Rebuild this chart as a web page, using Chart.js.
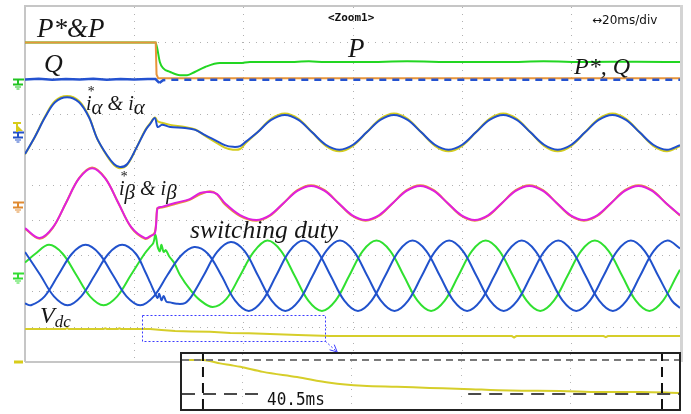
<!DOCTYPE html>
<html>
<head>
<meta charset="utf-8">
<script src="https://cdn.jsdelivr.net/npm/chart.js@4.4.1/dist/chart.umd.min.js"></script>
<style>
  html, body { margin: 0; padding: 0; background: #fff; }
  #wrap { position: relative; width: 691px; height: 414px; overflow: hidden; }
  #scope { position: absolute; left: 0; top: 0; }
  #zoomBox { position: absolute; left: 180px; top: 352px; width: 497px; height: 55px; border: 2px solid #222; background: #fff; }
  #zoomBox canvas { display: block; }
  .lbl { position: absolute; font-family: "Liberation Serif", "Times New Roman", serif; font-style: italic; color: #161616; line-height: 1; white-space: nowrap; }
  .ui { position: absolute; font-family: "DejaVu Sans Mono", monospace; color: #111; line-height: 1; white-space: nowrap; }
  .ix { position: relative; }
  .st { position: absolute; left: 1px; top: -7px; font-size: 14px; }
  .sb { position: relative; top: 4px; font-size: 21px; }
</style>
</head>
<body>
<div id="wrap">
  <canvas id="scope" width="691" height="414"></canvas>
  <div id="zoomBox"><canvas id="zoom" width="497" height="55"></canvas></div>

  <div class="lbl" style="left:37px;top:15px;font-size:27px">P*&amp;P</div>
  <div class="lbl" style="left:44px;top:51px;font-size:26px">Q</div>
  <div class="lbl" style="left:348px;top:35px;font-size:27px">P</div>
  <div class="lbl" style="left:574px;top:54px;font-size:24px">P*, Q</div>
  <div class="lbl" style="left:86px;top:93px;font-size:20px"><span class="ix">i<span class="st">*</span></span><span class="sb">α</span> &amp; i<span class="sb">α</span></div>
  <div class="lbl" style="left:119px;top:178px;font-size:20px"><span class="ix">i<span class="st">*</span></span><span class="sb">β</span> &amp; i<span class="sb">β</span></div>
  <div class="lbl" style="left:190px;top:217px;font-size:25.5px">switching duty</div>
  <div class="lbl" style="left:40px;top:303px;font-size:24px">V<span style="font-size:17px;position:relative;top:4px">dc</span></div>

  <div class="ui" style="left:328px;top:12px;font-size:11px;font-weight:bold">&lt;Zoom1&gt;</div>
  <div class="ui" style="left:592px;top:14px;font-size:12px;font-family:'DejaVu Sans',sans-serif">&#8596;20ms/div</div>
  <div class="ui" style="left:267px;top:390px;font-size:16px;transform:scaleY(1.12);transform-origin:0 0">40.5ms</div>
</div>

<script>
// time in ms (20 ms/div, 6 div), amplitude in screen divisions (0..10)
const xGridMs = [20, 40, 60, 80, 100];
const yGridDiv = [1, 2, 3, 4, 5, 6, 7, 8, 9];

// P* (orange) and P (green)
const tPref = [0, 23.95, 24.1, 24.4, 120];
const pRef = [9.0, 9.0, 8.1, 7.99, 7.99];
const tP = [0, 23.9, 24.2, 24.7, 25.3, 26.6, 28.4, 29.7, 31.1, 33.0, 35.7, 39.4, 41.2, 48, 52, 55, 62, 70, 79, 88, 95, 103, 112, 120];
const pMeas = [9.0, 9.0, 8.85, 8.45, 8.28, 8.17, 8.08, 8.08, 8.17, 8.31, 8.42, 8.42, 8.45, 8.45, 8.47, 8.45, 8.45, 8.47, 8.45, 8.45, 8.47, 8.45, 8.46, 8.45];

// Q (blue)
const tQ = [0, 2.5, 5, 7.5, 10, 12.5, 15, 17.5, 20, 22.5, 23.9, 24.6, 25.3, 26.5, 40, 60, 80, 100, 120];
const qMeas = [7.96, 7.98, 7.95, 7.97, 7.96, 7.98, 7.95, 7.97, 7.96, 7.97, 7.97, 7.86, 7.94, 7.95, 7.95, 7.95, 7.95, 7.95, 7.95];

// i_alpha (blue) and i_alpha* (yellow)
const tAlpha = [0, 1.8, 3.7, 5.5, 7.7, 9.9, 11.7, 13.2, 15.0, 16.3, 17.4, 18.7, 20.5, 22.0, 22.9, 23.8,
  24.3, 25.1, 26.6, 29.3, 31.2, 33.0, 34.8, 36.6, 38.1, 39.4, 40.4,
  42.6, 45.1, 47.6, 50.1, 52.6, 55.1, 57.6, 60.1, 62.6, 65.1, 67.6, 70.1, 72.6, 75.1, 77.6, 80.1,
  82.6, 85.1, 87.6, 90.1, 92.6, 95.1, 97.6, 100.1, 102.6, 105.1, 107.6, 110.1, 112.6, 115.1, 117.6, 120];
const iAlpha = [5.86, 6.34, 6.90, 7.32, 7.46, 7.32, 6.90, 6.30, 5.83, 5.58, 5.49, 5.57, 6.06, 6.51, 6.70, 6.87,
  6.62, 6.68, 6.62, 6.59, 6.54, 6.39, 6.25, 6.11, 6.06, 6.08, 6.20,
  6.47, 6.82, 6.96, 6.82, 6.47, 6.12, 5.98, 6.12, 6.47, 6.82, 6.96, 6.82, 6.47, 6.12, 5.98, 6.12,
  6.47, 6.82, 6.96, 6.82, 6.47, 6.12, 5.98, 6.12, 6.47, 6.82, 6.96, 6.82, 6.47, 6.12, 5.98, 6.11];
const iAlphaRef = [5.85, 6.34, 6.92, 7.35, 7.49, 7.35, 6.92, 6.30, 5.81, 5.55, 5.46, 5.55, 6.06, 6.53, 6.72, 6.89,
  6.78, 6.74, 6.68, 6.62, 6.55, 6.37, 6.20, 6.04, 5.98, 6.00, 6.16,
  6.47, 6.85, 7.00, 6.85, 6.47, 6.09, 5.94, 6.09, 6.47, 6.85, 7.00, 6.85, 6.47, 6.09, 5.94, 6.09,
  6.47, 6.85, 7.00, 6.85, 6.47, 6.09, 5.94, 6.09, 6.47, 6.85, 7.00, 6.85, 6.47, 6.09, 5.94, 6.08];

// i_beta (magenta) and i_beta* (orange)
const tBeta = [0, 2.7, 5.1, 7.5, 9.9, 12.3, 14.7, 17.1, 19.5, 22.0, 23.0, 23.8, 24.2, 24.4, 25.1, 27.5, 30.2, 32.1, 33.9, 35.2, 36.6, 39.4,
  42.4, 44.9, 47.4, 49.9, 52.4, 54.9, 57.4, 59.9, 62.4, 64.9, 67.4, 69.9, 72.4, 74.9, 77.4, 79.9,
  82.4, 84.9, 87.4, 89.9, 92.4, 94.9, 97.4, 99.9, 102.4, 104.9, 107.4, 109.9, 112.4, 114.9, 117.4, 120];
const iBeta = [3.77, 3.49, 3.79, 4.48, 5.17, 5.46, 5.17, 4.48, 3.79, 3.49, 3.55, 3.63, 4.28, 4.35, 4.37, 4.48, 4.59, 4.76, 4.79, 4.73, 4.48, 4.14,
  4.00, 4.14, 4.48, 4.82, 4.96, 4.82, 4.48, 4.14, 4.00, 4.14, 4.48, 4.82, 4.96, 4.82, 4.48, 4.14,
  4.00, 4.14, 4.48, 4.82, 4.96, 4.82, 4.48, 4.14, 4.00, 4.14, 4.48, 4.82, 4.96, 4.82, 4.48, 4.14];
const iBetaRef = [3.75, 3.47, 3.78, 4.48, 5.18, 5.48, 5.18, 4.48, 3.78, 3.47, 3.54, 3.66, 4.33, 4.33, 4.35, 4.45, 4.57, 4.72, 4.81, 4.72, 4.44, 4.11,
  3.98, 4.12, 4.48, 4.84, 4.98, 4.84, 4.48, 4.12, 3.98, 4.12, 4.48, 4.84, 4.98, 4.84, 4.48, 4.12,
  3.98, 4.12, 4.48, 4.84, 4.98, 4.84, 4.48, 4.12, 3.98, 4.12, 4.48, 4.84, 4.98, 4.84, 4.48, 4.12];

// switching duty, three phases
const tDutyG = [0, 1.9, 4.4, 6.9, 9.4, 11.9, 14.4, 16.9, 19.4, 21.9, 22.9, 23.5, 23.9, 24.3, 24.7, 25.0, 25.4, 25.8, 26.4, 27.3, 28.4, 30.2, 32.0, 34.4, 36.9, 39.4, 41.9, 44.4,
  46.9, 49.4, 51.9, 54.4, 56.9, 59.4, 61.9, 64.4, 66.9, 69.4, 71.9, 74.4, 76.9, 79.4, 81.9, 84.4,
  86.9, 89.4, 91.9, 94.4, 96.9, 99.4, 101.9, 104.4, 106.9, 109.4, 111.9, 114.4, 116.9, 119.4, 120];
const dutyG = [2.80, 3.05, 3.30, 3.05, 2.45, 1.85, 1.60, 1.85, 2.45, 3.05, 3.24, 3.35, 3.58, 3.25, 3.12, 3.30, 3.10, 3.15, 2.98, 2.80, 2.45, 2.05, 1.75, 1.55, 1.78, 2.43, 3.10, 3.42,
  3.13, 2.43, 1.73, 1.44, 1.73, 2.43, 3.13, 3.42, 3.13, 2.43, 1.73, 1.44, 1.73, 2.43, 3.13, 3.42,
  3.13, 2.43, 1.73, 1.44, 1.73, 2.43, 3.13, 3.42, 3.13, 2.43, 1.73, 1.44, 1.73, 2.43, 2.60];
const tDutyA = [0, 1.1, 3.6, 6.1, 8.6, 11.1, 13.6, 16.1, 18.6, 21.1, 23.6, 26.1, 28.6, 31.0, 33.5, 36.0, 38.5, 41.0,
  43.5, 46.0, 48.5, 51.0, 53.5, 56.0, 58.5, 61.0, 63.5, 66.0, 68.5, 71.0, 73.5, 76.0, 78.5, 81.0,
  83.5, 86.0, 88.5, 91.0, 93.5, 96.0, 98.5, 101.0, 103.5, 106.0, 108.5, 111.0, 113.5, 116.0, 118.5, 120];
const dutyA = [1.65, 1.60, 1.85, 2.45, 3.05, 3.30, 3.05, 2.45, 1.85, 1.60, 1.85, 2.45, 3.00, 3.24, 3.05, 2.43, 1.73, 1.44,
  1.73, 2.43, 3.13, 3.42, 3.13, 2.43, 1.73, 1.44, 1.73, 2.43, 3.13, 3.42, 3.13, 2.43, 1.73, 1.44,
  1.73, 2.43, 3.13, 3.42, 3.13, 2.43, 1.73, 1.44, 1.73, 2.43, 3.13, 3.42, 3.13, 2.43, 1.73, 1.52];
const tDutyB = [0, 2.8, 5.3, 7.8, 10.3, 12.8, 15.3, 17.8, 20.3, 22.0, 22.9, 23.8, 24.3, 24.6, 25.0, 25.4, 25.9, 26.6, 27.8, 29.3, 30.5, 32.7, 35.2, 37.7,
  40.2, 42.7, 45.2, 47.7, 50.2, 52.7, 55.2, 57.7, 60.2, 62.7, 65.2, 67.7, 70.2, 72.7, 75.2, 77.7,
  80.2, 82.7, 85.2, 87.7, 90.2, 92.7, 95.2, 97.7, 100.2, 102.7, 105.2, 107.7, 110.2, 112.7, 115.2, 117.7, 120];
const dutyB = [3.10, 2.45, 1.85, 1.60, 1.85, 2.45, 3.05, 3.30, 3.05, 2.55, 2.25, 1.94, 1.80, 1.92, 1.74, 1.86, 1.70, 1.68, 1.64, 1.66, 1.85, 2.43, 3.10, 3.38,
  3.13, 2.43, 1.73, 1.44, 1.73, 2.43, 3.13, 3.42, 3.13, 2.43, 1.73, 1.44, 1.73, 2.43, 3.13, 3.42,
  3.13, 2.43, 1.73, 1.44, 1.73, 2.43, 3.13, 3.42, 3.13, 2.43, 1.73, 1.44, 1.73, 2.43, 3.13, 3.42, 3.20];

// Vdc (yellow)
const tVdc = [0, 7.4, 7.7, 8.0, 14.4, 14.7, 15.0, 17.0, 17.3, 17.6, 22.9, 25.0, 27.5, 30.5, 33.9, 37.6, 41.0, 44.9, 50.0, 55.9, 70, 89.2, 89.6, 90.0, 106.0, 106.4, 106.8, 120];
const vdc = [0.93, 0.93, 0.96, 0.93, 0.93, 0.95, 0.93, 0.93, 0.95, 0.93, 0.93, 0.90, 0.87, 0.86, 0.85, 0.82, 0.81, 0.79, 0.76, 0.73, 0.73, 0.73, 0.69, 0.73, 0.73, 0.70, 0.73, 0.73];

// channel ground markers (div) and the zoom window
const groundLevels = [7.97, 6.48, 4.52, 2.50];
const groundColors = ['#22c422', '#2452c8', '#e08a30', '#33dd33'];
const zoomWindow = { t0: 21.4, t1: 55.0, v0: 0.59, v1: 1.32 };
const arrowTip = { t: 57.2, v: 0.28 };

// zoom inset: ms from first cursor, Vdc normalised between cursor levels
const tZoom = [-1.85, 0, 0.6, 1.5, 2.4, 3.3, 5.3, 8.3, 11.2, 14.1, 17.1, 20.0, 23.0, 27.1, 31.5, 35.0, 38.6, 42.0];
const vdcZoom = [1.0, 1.0, 0.97, 0.90, 0.85, 0.80, 0.65, 0.50, 0.33, 0.24, 0.21, 0.18, 0.15, 0.10, 0.09, 0.06, 0.06, 0.03];
const cursorTimes = [0, 40.5];
const cursorLevels = [1, 0];
const lowCursorGap = [5.3, 23.4];
const insetGridMs = [3.4, 13.1, 22.8, 32.4];
const insetX = [-1.85, 42.0];
const insetY = [-0.441, 1.176];

const pts = (ts, vs) => ts.map((t, i) => ({ x: t, y: vs[i] }));

// smooth curves for the sine-like channels
const trace = (label, ts, vs, color, extra) => Object.assign({
  label, data: pts(ts, vs), borderColor: color, borderWidth: 2,
  pointRadius: 0, tension: 0.35, fill: false
}, extra || {});

const scopeDecor = {
  id: 'scopeDecor',
  beforeDatasetsDraw(chart) {
    const { ctx, chartArea: a, scales: { x, y } } = chart;
    ctx.save();
    ctx.strokeStyle = '#b0b0b0';
    ctx.lineWidth = 1;
    ctx.setLineDash([1, 6]);
    xGridMs.forEach(t => {
      const px = Math.round(x.getPixelForValue(t)) + 0.5;
      ctx.beginPath(); ctx.moveTo(px, a.top); ctx.lineTo(px, a.bottom); ctx.stroke();
    });
    yGridDiv.forEach(v => {
      const py = Math.round(y.getPixelForValue(v)) + 0.5;
      ctx.beginPath(); ctx.moveTo(a.left, py); ctx.lineTo(a.right, py); ctx.stroke();
    });
    ctx.setLineDash([]);
    ctx.strokeStyle = '#c6c6c6';
    ctx.lineWidth = 2;
    ctx.beginPath();
    ctx.moveTo(a.left, a.bottom); ctx.lineTo(a.left, a.top - 1); ctx.lineTo(a.right + 2, a.top - 1);
    ctx.moveTo(a.left, a.bottom); ctx.lineTo(a.right, a.bottom);
    ctx.stroke();
    ctx.strokeStyle = '#d4d4d4';
    ctx.lineWidth = 3;
    ctx.beginPath(); ctx.moveTo(a.right + 1.5, a.top - 2); ctx.lineTo(a.right + 1.5, a.bottom); ctx.stroke();
    ctx.restore();
  },
  afterDraw(chart) {
    const { ctx, scales: { x, y } } = chart;
    ctx.save();
    // zoom window and arrow
    const l = x.getPixelForValue(zoomWindow.t0), r = x.getPixelForValue(zoomWindow.t1);
    const t = y.getPixelForValue(zoomWindow.v1), b = y.getPixelForValue(zoomWindow.v0);
    ctx.strokeStyle = '#3b3bff';
    ctx.lineWidth = 1;
    ctx.setLineDash([2, 2]);
    ctx.strokeRect(Math.round(l) + 0.5, Math.round(t) + 0.5, Math.round(r - l), Math.round(b - t));
    const tx = x.getPixelForValue(arrowTip.t), ty = y.getPixelForValue(arrowTip.v);
    ctx.beginPath(); ctx.moveTo(r, b); ctx.lineTo(tx, ty); ctx.stroke();
    ctx.setLineDash([]);
    const ang = Math.atan2(ty - b, tx - r);
    ctx.beginPath();
    ctx.moveTo(tx - 8 * Math.cos(ang - 0.45), ty - 8 * Math.sin(ang - 0.45));
    ctx.lineTo(tx, ty);
    ctx.lineTo(tx - 8 * Math.cos(ang + 0.45), ty - 8 * Math.sin(ang + 0.45));
    ctx.stroke();

    // ground markers at the left edge
    groundLevels.forEach((lv, i) => {
      const py = Math.round(y.getPixelForValue(lv)) + 0.5;
      ctx.strokeStyle = groundColors[i];
      ctx.lineWidth = 2;
      ctx.beginPath();
      ctx.moveTo(13, py); ctx.lineTo(24, py);
      ctx.moveTo(18, py); ctx.lineTo(18, py + 5);
      ctx.moveTo(13, py + 5); ctx.lineTo(23, py + 5);
      ctx.stroke();
      ctx.lineWidth = 1;
      ctx.beginPath();
      ctx.moveTo(15, py + 7.5); ctx.lineTo(21, py + 7.5);
      ctx.moveTo(16.5, py + 9.5); ctx.lineTo(19.5, py + 9.5);
      ctx.stroke();
    });
    // trigger marker above the i_alpha ground
    const ty0 = Math.round(y.getPixelForValue(groundLevels[1])) - 9;
    ctx.strokeStyle = '#d8cc1a';
    ctx.fillStyle = '#d8cc1a';
    ctx.lineWidth = 2;
    ctx.beginPath();
    ctx.moveTo(13, ty0); ctx.lineTo(21, ty0);
    ctx.moveTo(17, ty0); ctx.lineTo(17, ty0 + 9);
    ctx.stroke();
    ctx.beginPath();
    ctx.moveTo(18, ty0 + 3); ctx.lineTo(23, ty0 + 8); ctx.lineTo(18, ty0 + 8); ctx.closePath(); ctx.fill();
    // Vdc ground dash
    const vy = Math.round(y.getPixelForValue(0));
    ctx.lineWidth = 3;
    ctx.beginPath(); ctx.moveTo(14, vy); ctx.lineTo(23, vy); ctx.stroke();
    ctx.restore();
  }
};

new Chart(document.getElementById('scope'), {
  type: 'line',
  data: {
    datasets: [
      trace('Q', tQ, qMeas, '#2452d0', {
        tension: 0, borderWidth: 2.5,
        segment: { borderDash: c => (c.p0.parsed.x >= 24.6 ? [7, 6] : undefined) }
      }),
      trace('P*', tPref, pRef, '#e8943a', { tension: 0 }),
      trace('P', tP, pMeas, '#22d622', { tension: 0, cubicInterpolationMode: 'monotone' }),
      trace('i_alpha', tAlpha, iAlpha, '#1f4fcc'),
      trace('i_alpha*', tAlpha, iAlphaRef, '#d4cc1e'),
      trace('i_beta', tBeta, iBeta, '#e020dc'),
      trace('i_beta*', tBeta, iBetaRef, '#e8943a'),
      trace('duty a', tDutyA, dutyA, '#2152cc'),
      trace('duty b', tDutyB, dutyB, '#2152cc'),
      trace('duty c', tDutyG, dutyG, '#30e030'),
      trace('Vdc', tVdc, vdc, '#d6ce2a', { tension: 0 })
    ]
  },
  options: {
    responsive: false,
    animation: false,
    devicePixelRatio: 1,
    layout: { padding: { left: 25, right: 11, top: 7, bottom: 52 } },
    scales: {
      x: { type: 'linear', display: false, min: 0, max: 120 },
      y: { type: 'linear', display: false, min: 0, max: 10 }
    },
    plugins: { legend: { display: false }, tooltip: { enabled: false } }
  },
  plugins: [scopeDecor]
});

const insetDecor = {
  id: 'insetDecor',
  beforeDatasetsDraw(chart) {
    const { ctx, chartArea: a, scales: { x } } = chart;
    ctx.save();
    ctx.strokeStyle = '#b8b8b8';
    ctx.lineWidth = 1;
    ctx.setLineDash([1, 6]);
    insetGridMs.forEach(t => {
      const px = Math.round(x.getPixelForValue(t)) + 0.5;
      ctx.beginPath(); ctx.moveTo(px, a.top); ctx.lineTo(px, a.bottom); ctx.stroke();
    });
    ctx.restore();
  }
};

const cursorLine = (data, color, dash) => ({
  data, borderColor: color, borderWidth: 2, borderDash: dash, pointRadius: 0, tension: 0, spanGaps: false
});

new Chart(document.getElementById('zoom'), {
  type: 'line',
  data: {
    datasets: [
      cursorLine(cursorTimes.flatMap(t => [{ x: t, y: insetY[0] }, { x: t, y: insetY[1] }, { x: t, y: null }]), '#111', [10, 6]),
      cursorLine([{ x: insetX[0], y: cursorLevels[1] }, { x: lowCursorGap[0], y: cursorLevels[1] }, { x: lowCursorGap[0], y: null },
                  { x: lowCursorGap[1], y: cursorLevels[1] }, { x: insetX[1], y: cursorLevels[1] }], '#4a4a4a', [13, 8]),
      cursorLine([{ x: insetX[0], y: cursorLevels[0] }, { x: insetX[1], y: cursorLevels[0] }], '#7a7a7a', [7, 5]),
      { data: pts(tZoom, vdcZoom), borderColor: '#d6ce2a', borderWidth: 2, pointRadius: 0, cubicInterpolationMode: 'monotone' }
    ]
  },
  options: {
    responsive: false,
    animation: false,
    devicePixelRatio: 1,
    layout: { padding: 0 },
    scales: {
      x: { type: 'linear', display: false, min: insetX[0], max: insetX[1] },
      y: { type: 'linear', display: false, min: insetY[0], max: insetY[1] }
    },
    plugins: { legend: { display: false }, tooltip: { enabled: false } }
  },
  plugins: [insetDecor]
});
</script>
</body>
</html>
